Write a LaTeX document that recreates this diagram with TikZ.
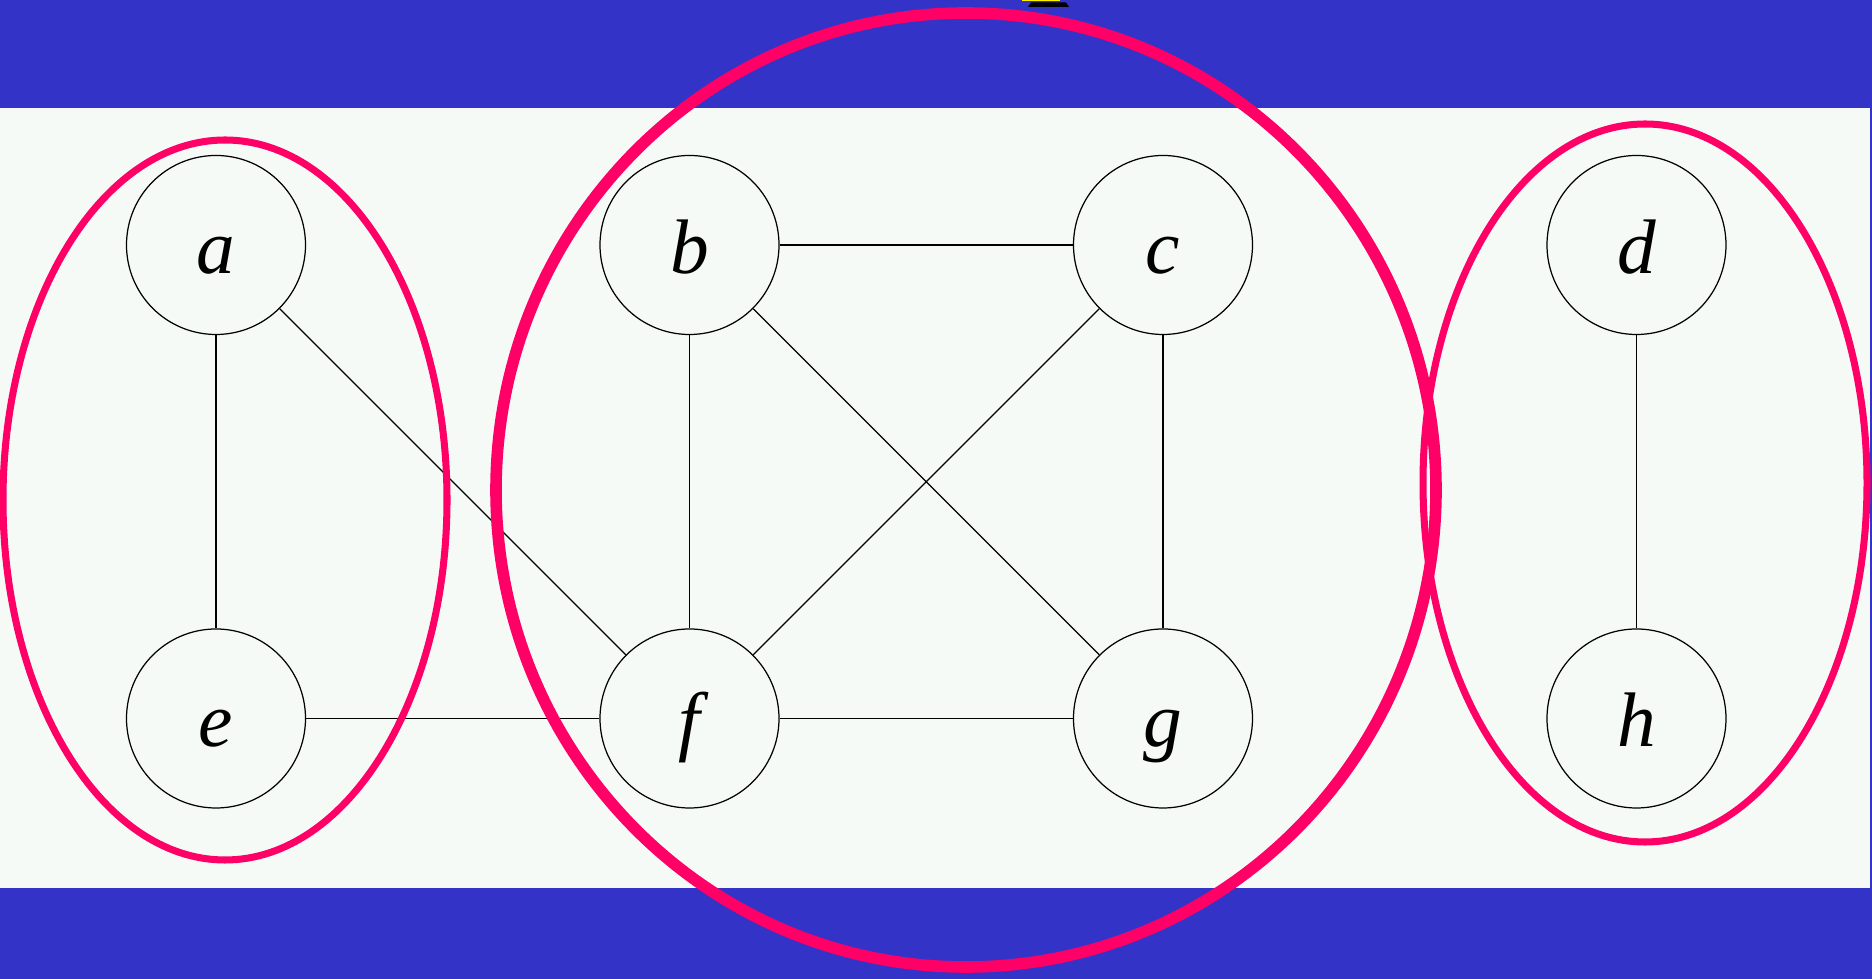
\documentclass[tikz,border=0pt]{standalone}
\usepackage{fontspec}
\setmainfont{Liberation Serif}
\definecolor{bandblue}{HTML}{3333C8}
\definecolor{paper}{HTML}{F5FAF6}
\definecolor{ringpink}{HTML}{FF0066}
\begin{document}
\begin{tikzpicture}[x=0.1mm, y=-0.1mm, node distance=47.35mm, line width=0.35pt,
                    main node/.style={circle,draw,line width=0.35pt,inner sep=0pt,
                      minimum size=17.9mm,text height=18pt,text depth=2pt,
                      font=\itshape\fontsize{22}{22}\selectfont},
                    group/.style={draw=ringpink,line width=2pt},
                    big group/.style={draw=ringpink,line width=3.3pt}]
  \useasboundingbox (0,0) rectangle (1872,979);
  \fill[bandblue] (0,0) rectangle (1872,979);
  \fill[paper] (0,108) rectangle (1870,888);
  % cut-off mark at the top
  \fill[yellow] (1022,0) rectangle (1060,1.5);
  \fill[black] (1031,2.5) -- (1066,2.5) -- (1069,7) -- (1028,7) -- cycle;

  \node[main node] (a) at (216,245) {a};
  \node[main node] (b) [right of=a] {b};
  \node[main node] (c) [right of=b] {c};
  \node[main node] (d) [right of=c] {d};
  \node[main node] (e) [below of=a] {e};
  \node[main node] (f) [below of=b] {f};
  \node[main node] (g) [below of=c] {g};
  \node[main node] (h) [below of=d] {h};

  \path
    (a) edge (e)
    (a) edge (f)
    (e) edge (f)
    (b) edge (c)
    (b) edge (f)
    (b) edge (g)
    (c) edge (f)
    (c) edge (g)
    (f) edge (g)
    (d) edge (h);

  % components
  \draw[group] (225,500) ellipse [x radius=222, y radius=360];
  \draw[big group] (966,490) ellipse [x radius=470, y radius=477];
  \draw[group] (1645,483) ellipse [x radius=222, y radius=359];
\end{tikzpicture}
\end{document}
